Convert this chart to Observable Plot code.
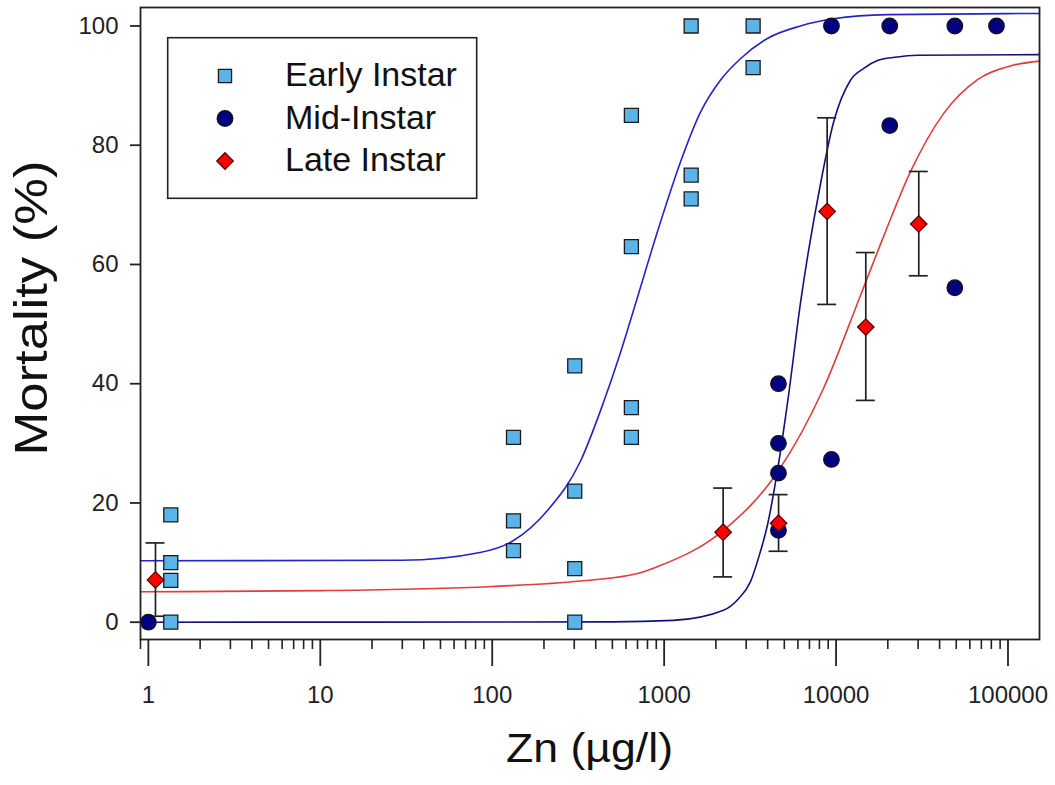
<!DOCTYPE html>
<html><head><meta charset="utf-8">
<script src="https://cdn.jsdelivr.net/npm/d3@7"></script>
<script src="https://cdn.jsdelivr.net/npm/@observablehq/plot@0.6"></script>
<style>
body{margin:0;background:#fff;}
#wrap{position:relative;width:1055px;height:785px;font-family:"Liberation Sans",Arial,sans-serif;}
#legend{position:absolute;left:0;top:0;pointer-events:none;}
</style></head><body><div id="wrap"></div>
<script>
// ---- data ----
const seriesNames = ["Early Instar", "Mid-Instar", "Late Instar"];
const seriesFill = ["#5BB4E8", "#000080", "#FF0000"];
const curveColors = ["#2424C8", "#12127E", "#E23C3C"];

const earlyX = [1.35,1.35,1.35,1.35, 133,133,133, 302,302,302,302, 645,645,645,645, 1436,1436,1436, 3293,3293];
const earlyY = [18,10,7,0, 31,17,12, 43,22,9,0, 85,63,36,31, 100,75,71, 100,93];

const midX = [1, 4623,4623,4623,4623, 9400,9400, 20520,20520, 49060,49060, 85700];
const midY = [0, 40,30,25,15.4, 100,27.3, 100,83.3, 100,56.1, 100];

const lateX = [1.1, 2204, 4630, 8875, 14890, 30270];
const lateY = [7.1, 15.1, 16.6, 68.9, 49.5, 66.8];
const lateLow = [1.0, 7.6, 11.9, 53.3, 37.2, 58.1];
const lateHigh = [13.3, 22.5, 21.4, 84.6, 62.0, 75.6];

// fitted curves
const earlyCurveX = [0.9, 30, 85, 133, 209, 326, 443, 557, 700, 914, 1245, 1625, 2124, 2778, 3985, 6207, 9660, 20000, 152500];
const earlyCurveY = [10.3, 10.4, 11.7, 13.7, 18.7, 27.0, 36.8, 45.2, 54.5, 65.5, 77.2, 85.5, 90.9, 94.5, 97.9, 100.0, 101.2, 101.9, 102.1];
const midCurveX = [0.9, 500, 1132, 2213, 2700, 3178, 3600, 3990, 4624, 5288, 6207, 8117, 9660, 12130, 14500, 17410, 22000, 29730, 152500];
const midCurveY = [0, 0.05, 0.3, 2.0, 3.9, 6.8, 11.5, 16.3, 26.5, 38.0, 53.5, 73.5, 83.8, 90.9, 92.9, 94.2, 94.75, 95.1, 95.2];
const lateCurveX = [0.9, 10, 100, 326, 728, 951, 2213, 4624, 8445, 13870, 18960, 27140, 42170, 66530, 103400, 152500];
const lateCurveY = [5.1, 5.3, 6.0, 6.9, 8.3, 9.5, 15.4, 25.4, 39.2, 54.8, 64.8, 75.6, 85.3, 91.0, 93.3, 94.1];

const xTickValues = [1, 10, 100, 1000, 10000, 100000];
const xTickLabels = ["1", "10", "100", "1000", "10000", "100000"];
const xMinorTicks = [0.9, 2,3,4,5,6,7,8,9, 20,30,40,50,60,70,80,90, 200,300,400,500,600,700,800,900,
  2000,3000,4000,5000,6000,7000,8000,9000, 20000,30000,40000,50000,60000,70000,80000,90000];
const yTickValues = [0, 20, 40, 60, 80, 100];
const yTickLabels = ["0", "20", "40", "60", "80", "100"];
const xTitle = "Zn (µg/l)";
const yTitle = "Mortality (%)";

// ---- tables ----
const early = earlyX.map((x, i) => ({x, y: earlyY[i]}));
const mid = midX.map((x, i) => ({x, y: midY[i]}));
const late = lateX.map((x, i) => ({x, y: lateY[i], low: lateLow[i], high: lateHigh[i]}));
const earlyCurve = earlyCurveX.map((x, i) => ({x, y: earlyCurveY[i]}));
const midCurve = midCurveX.map((x, i) => ({x, y: midCurveY[i]}));
const lateCurve = lateCurveX.map((x, i) => ({x, y: lateCurveY[i]}));

const diamond = {draw(ctx, size) { const r = Math.sqrt(size) * 0.62625; ctx.moveTo(0, -r); ctx.lineTo(r, 0); ctx.lineTo(0, r); ctx.lineTo(-r, 0); ctx.closePath(); }};
const ink = "#222";

const chart = Plot.plot({
  width: 1055, height: 785,
  marginLeft: 140, marginRight: 16, marginTop: 7, marginBottom: 146,
  style: {fontFamily: '"Liberation Sans", Arial, sans-serif', fontSize: "24px", color: ink, background: "#fff"},
  x: {type: "log", domain: [0.9, 152500]},
  y: {domain: [-2.9, 103.1]},
  marks: [
    Plot.line(earlyCurve, {x: "x", y: "y", stroke: curveColors[0], strokeWidth: 1.6, curve: "monotone-x"}),
    Plot.line(midCurve, {x: "x", y: "y", stroke: curveColors[1], strokeWidth: 1.6, curve: "monotone-x"}),
    Plot.line(lateCurve, {x: "x", y: "y", stroke: curveColors[2], strokeWidth: 1.6, curve: "monotone-x"}),
    Plot.ruleX(late, {x: "x", y1: "low", y2: "high", stroke: ink, strokeWidth: 1.7}),
    Plot.ruleY(late, {y: "low", x1: "x", x2: "x", insetLeft: -9.5, insetRight: -9.5, stroke: ink, strokeWidth: 1.7}),
    Plot.ruleY(late, {y: "high", x1: "x", x2: "x", insetLeft: -9.5, insetRight: -9.5, stroke: ink, strokeWidth: 1.7}),
    Plot.dot(early, {x: "x", y: "y", symbol: "square", r: 7.9, fill: seriesFill[0], stroke: "#1a1a1a", strokeWidth: 1.3}),
    Plot.dot(mid, {x: "x", y: "y", symbol: "circle", r: 7.8, fill: seriesFill[1], stroke: "#111", strokeWidth: 1.2}),
    Plot.dot(late, {x: "x", y: "y", symbol: diamond, r: 7.4, fill: seriesFill[2], stroke: "#5a0000", strokeWidth: 1.3}),
    Plot.frame({stroke: ink, strokeWidth: 1.8}),
    Plot.axisY(yTickValues, {anchor: "left", tickSize: 10, tickPadding: 12, tickFormat: d => yTickLabels[yTickValues.indexOf(d)], label: null, stroke: ink, strokeWidth: 1.8}),
    Plot.axisX(xTickValues, {anchor: "bottom", tickSize: 27, tickPadding: 19, tickFormat: d => xTickLabels[xTickValues.indexOf(d)], label: null, stroke: ink, strokeWidth: 1.8}),
    Plot.axisX(xMinorTicks, {anchor: "bottom", tickSize: 10, tickFormat: () => "", label: null, stroke: ink, strokeWidth: 1.6})
  ]
});

const wrap = document.getElementById("wrap");
wrap.appendChild(chart);

// axis titles
const svg = d3.select(chart);
svg.append("text").text(xTitle)
  .attr("x", 589.5).attr("y", 762).attr("text-anchor", "middle")
  .attr("font-size", 40).attr("fill", "#111")
  .attr("textLength", 167).attr("lengthAdjust", "spacingAndGlyphs");
svg.append("text").text(yTitle)
  .attr("transform", "translate(46.5,308) rotate(-90)").attr("text-anchor", "middle")
  .attr("font-size", 46).attr("fill", "#111")
  .attr("textLength", 295).attr("lengthAdjust", "spacingAndGlyphs");

// legend (inside the plot area, as an overlay)
const leg = d3.select(wrap).append("svg").attr("id", "legend").attr("width", 1055).attr("height", 785);
leg.append("rect").attr("x", 167.7).attr("y", 37.7).attr("width", 309).attr("height", 160.6)
  .attr("fill", "#fff").attr("stroke", ink).attr("stroke-width", 1.6);
const rowY = [76, 118.5, 161];
const symSize = [Math.PI * 7.4 * 7.4, Math.PI * 7.8 * 7.8, Math.PI * 7.4 * 7.4];
const symTypes = [d3.symbolSquare, d3.symbolCircle, diamond];
const symStroke = ["#1a1a1a", "#111", "#5a0000"];
seriesNames.forEach((name, i) => {
  leg.append("path").attr("d", d3.symbol(symTypes[i], symSize[i])())
    .attr("transform", `translate(225,${rowY[i]})`)
    .attr("fill", seriesFill[i]).attr("stroke", symStroke[i]).attr("stroke-width", 1.3);
  leg.append("text").text(name).attr("x", 285).attr("y", rowY[i] + 10)
    .attr("font-size", 34).attr("fill", "#111")
    .attr("font-family", '"Liberation Sans", Arial, sans-serif');
});
</script></body></html>
